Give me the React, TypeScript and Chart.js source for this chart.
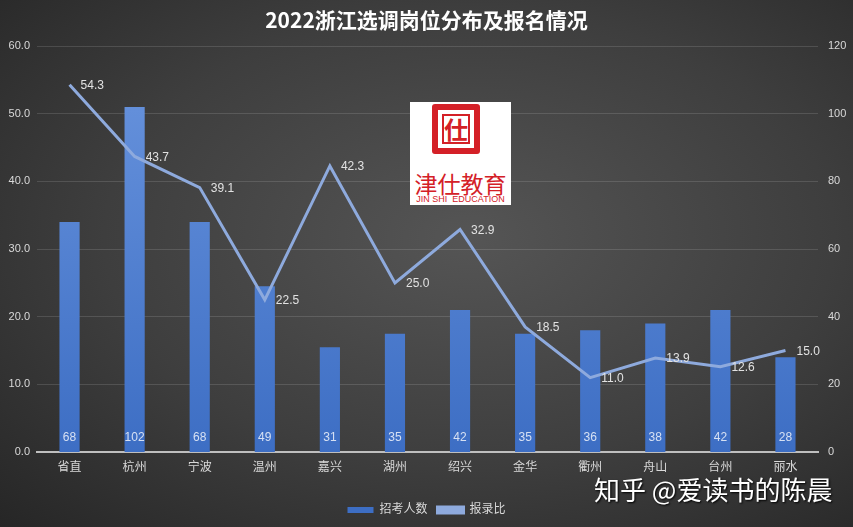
import React, { useRef, useEffect } from 'react';
import Chart from 'chart.js/auto';

// 数据
const categories = ['省直', '杭州', '宁波', '温州', '嘉兴', '湖州', '绍兴', '金华', '衢州', '舟山', '台州', '丽水'];
const applicants = [68, 102, 68, 49, 31, 35, 42, 35, 36, 38, 42, 28]; // 招考人数 (右轴)
const ratio = [54.3, 43.7, 39.1, 22.5, 42.3, 25.0, 32.9, 18.5, 11.0, 13.9, 12.6, 15.0]; // 报录比 (左轴)

const FONT = '"Liberation Sans", "Noto Sans CJK SC", sans-serif';
const LINE_COLOR = '#8eaadd';

// 数据标签
const labelPlugin = {
  id: 'valueLabels',
  afterDatasetsDraw(chart: Chart) {
    const ctx = chart.ctx;
    ctx.save();
    ctx.font = `12px ${FONT}`;
    ctx.textBaseline = 'middle';

    const barMeta = chart.getDatasetMeta(0);
    const base = chart.scales.y1.getPixelForValue(0);
    ctx.fillStyle = '#d6e0f3';
    ctx.textAlign = 'center';
    barMeta.data.forEach((el: any, i: number) => {
      ctx.fillText(String(applicants[i]), el.x, base - 14);
    });

    const lineMeta = chart.getDatasetMeta(1);
    ctx.fillStyle = '#e2e2e2';
    ctx.textAlign = 'left';
    lineMeta.data.forEach((pt: any, i: number) => {
      ctx.fillText(ratio[i].toFixed(1), pt.x + 11, pt.y + 1);
    });
    ctx.restore();
  },
};

const App: React.FC = () => {
  const chartRef = useRef<HTMLCanvasElement | null>(null);

  useEffect(() => {
    document.body.style.margin = '0';
    if (!chartRef.current) return;
    const ctx = chartRef.current.getContext('2d');
    if (!ctx) return;

    const chart = new Chart(ctx, {
      type: 'bar',
      data: {
        labels: categories,
        datasets: [
          {
            type: 'bar',
            label: '招考人数',
            data: applicants,
            yAxisID: 'y1',
            order: 2,
            backgroundColor: (c: any) => {
              const area = c.chart.chartArea;
              if (!area) return '#4a7bd0';
              const g = c.chart.ctx.createLinearGradient(0, area.top, 0, area.bottom);
              g.addColorStop(0, '#6a95de');
              g.addColorStop(1, '#3d6ec4');
              return g;
            },
            borderWidth: 0,
            barPercentage: 0.31,
            categoryPercentage: 1,
          },
          {
            type: 'line',
            label: '报录比',
            data: ratio,
            yAxisID: 'y',
            order: 1,
            borderColor: LINE_COLOR,
            backgroundColor: LINE_COLOR,
            borderWidth: 3,
            pointRadius: 0,
            tension: 0,
          },
        ],
      },
      options: {
        responsive: false,
        animation: false,
        layout: { padding: { left: 0, right: 0, bottom: 1 } },
        plugins: {
          title: {
            display: true,
            text: '2022浙江选调岗位分布及报名情况',
            color: '#ffffff',
            font: { family: '"Noto Sans CJK SC", sans-serif', size: 21, weight: 'bold' },
            padding: { top: 7, bottom: 14 },
          },
          legend: {
            position: 'bottom',
            labels: {
              color: '#d9d9d9',
              font: { family: FONT, size: 12 },
              boxWidth: 26,
              boxHeight: 6,
              padding: 10,
              sort: (a: any, b: any) => a.datasetIndex - b.datasetIndex,
            },
          },
          tooltip: { enabled: false },
        },
        scales: {
          x: {
            grid: { display: false, drawTicks: false },
            border: { color: '#bfbfbf', width: 2 },
            ticks: { color: '#d9d9d9', font: { family: FONT, size: 12 }, padding: 8 },
            afterFit: (s: any) => {
              s.height = 42;
            },
          },
          y: {
            position: 'left',
            min: 0,
            max: 60,
            ticks: {
              stepSize: 10,
              color: '#d9d9d9',
              font: { family: FONT, size: 11 },
              padding: 7,
              callback: (v: any) => Number(v).toFixed(1),
            },
            grid: { color: 'rgba(255,255,255,0.13)', drawTicks: false, lineWidth: 1 },
            border: { display: false },
            afterFit: (s: any) => {
              s.width = 37;
            },
          },
          y1: {
            position: 'right',
            min: 0,
            max: 120,
            ticks: {
              stepSize: 20,
              color: '#d9d9d9',
              font: { family: FONT, size: 11 },
              padding: 10,
            },
            grid: { display: false, drawTicks: false },
            border: { display: false },
            afterFit: (s: any) => {
              s.width = 35;
            },
          },
        },
      },
      plugins: [labelPlugin],
    } as any);

    return () => {
      chart.destroy();
    };
  }, []);

  return (
    <div
      style={{
        position: 'relative',
        width: 853,
        height: 527,
        overflow: 'hidden',
        background: 'radial-gradient(ellipse at 55% 45%, #555555 0%, #3e3e3e 55%, #262626 100%)',
      }}
    >
      <canvas ref={chartRef} width={853} height={527} style={{ position: 'absolute', left: 0, top: 0 }} />
      {/* 津仕教育 logo */}
      <div
        style={{
          position: 'absolute',
          left: 410,
          top: 102,
          width: 101,
          height: 103,
          background: '#ffffff',
          fontFamily: '"Noto Sans CJK SC", sans-serif',
          color: '#d42027',
        }}
      >
        <div
          style={{
            position: 'absolute',
            left: 22,
            top: 2,
            width: 36,
            height: 38,
            border: '6px solid #d42027',
            borderRadius: 3,
            display: 'flex',
            alignItems: 'center',
            justifyContent: 'center',
          }}
        >
          <div
            style={{
              width: 28,
              height: 30,
              border: '2px solid #d42027',
              boxSizing: 'border-box',
              display: 'flex',
              alignItems: 'center',
              justifyContent: 'center',
              fontSize: 24,
              fontWeight: 'bold',
              lineHeight: 1,
            }}
          >
            仕
          </div>
        </div>
        <div style={{ position: 'absolute', left: 0, top: 68, width: 101, textAlign: 'center', fontSize: 23, lineHeight: '26px' }}>
          津仕教育
        </div>
        <div
          style={{
            position: 'absolute',
            left: 0,
            top: 92,
            width: 101,
            textAlign: 'center',
            fontSize: 9,
            lineHeight: '10px',
            fontFamily: FONT,
            whiteSpace: 'nowrap',
          }}
        >
          JIN SHI&nbsp; EDUCATION
        </div>
      </div>
      {/* 水印 */}
      <div
        style={{
          position: 'absolute',
          left: 594,
          top: 472,
          fontSize: 26,
          lineHeight: '34px',
          color: '#ffffff',
          fontFamily: '"Noto Sans CJK SC", sans-serif',
          textShadow: '1px 1px 2px #000000',
          whiteSpace: 'nowrap',
        }}
      >
        知乎 @爱读书的陈晨
      </div>
    </div>
  );
};

export default App;
